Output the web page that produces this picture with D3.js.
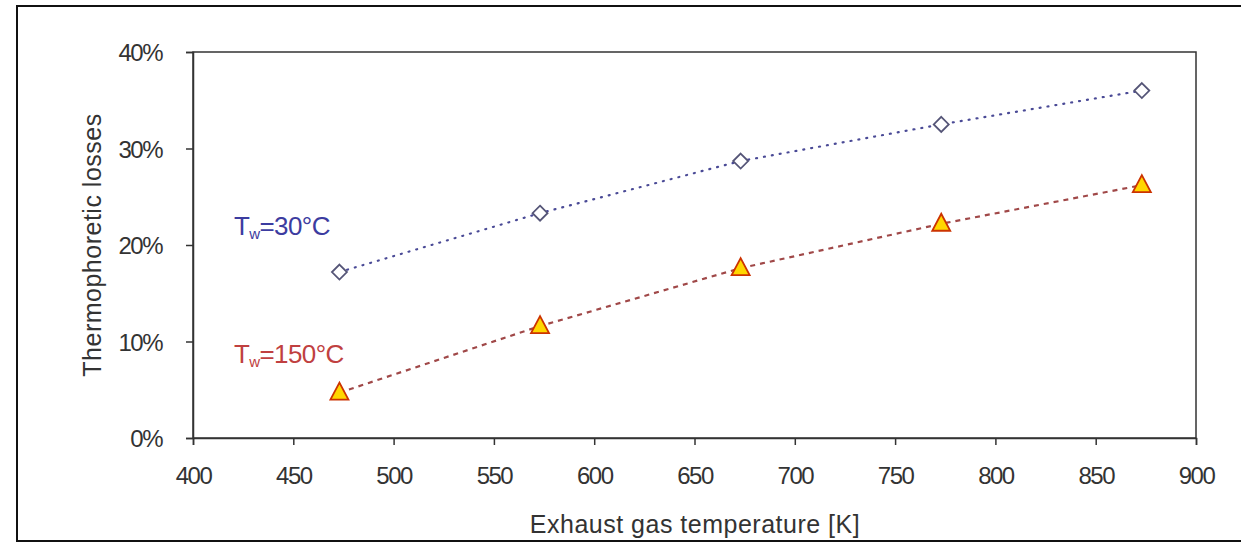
<!DOCTYPE html>
<html>
<head>
<meta charset="utf-8">
<script src="https://cdn.jsdelivr.net/npm/d3@7"></script>
<style>
  body { margin: 0; background: #fff; }
  text { font-family: "Liberation Sans", Arial, sans-serif; }
</style>
</head>
<body>
<div id="chart"></div>
<script>
// Data
var temps = [473, 573, 673, 773, 873];
var lossTw30 = [0.172, 0.233, 0.287, 0.325, 0.360];
var lossTw150 = [0.047, 0.116, 0.176, 0.222, 0.262];
var xTicks = [400, 450, 500, 550, 600, 650, 700, 750, 800, 850, 900];
var yTicks = [0, 0.1, 0.2, 0.3, 0.4];

function init() {
    var w = 1241;
    var h = 545;
    var left = 193, right = 1196, top = 52, bottom = 438;

    var svg = d3.select("#chart")
        .append("svg")
        .attr("width", w)
        .attr("height", h);

    // outer frame (top, left, bottom)
    svg.append("path")
        .attr("d", "M1241,6 H17 V541 H1241")
        .attr("fill", "none")
        .attr("stroke", "#111")
        .attr("stroke-width", 2);

    var xScale = d3.scaleLinear().domain([400, 900]).range([left, right]);
    var yScale = d3.scaleLinear().domain([0, 0.4]).range([bottom, top]);

    // plot box
    svg.append("rect")
        .attr("x", left)
        .attr("y", top)
        .attr("width", right - left)
        .attr("height", bottom - top)
        .attr("fill", "none")
        .attr("stroke", "#333")
        .attr("stroke-width", 1.5);

    var xAxis = d3.axisBottom(xScale).tickValues(xTicks).tickSize(7).tickPadding(27)
        .tickFormat(d3.format("d"));
    var yAxis = d3.axisLeft(yScale).tickValues(yTicks).tickSize(7).tickPadding(24)
        .tickFormat(d3.format(".0%"));

    var gx = svg.append("g")
        .attr("transform", "translate(0," + bottom + ")")
        .call(xAxis);
    var gy = svg.append("g")
        .attr("transform", "translate(" + left + ",0)")
        .call(yAxis);

    [gx, gy].forEach(function(g) {
        g.select(".domain").attr("stroke", "#333").attr("stroke-width", 1.5);
        g.selectAll(".tick line").attr("stroke", "#333").attr("stroke-width", 1.5);
        g.selectAll(".tick text")
            .attr("fill", "#333")
            .style("font-size", "24px")
            .style("letter-spacing", "-1.5px");
    });
    gx.selectAll(".tick text").attr("dy", "0.5em");
    gy.selectAll(".tick text").attr("dy", "0.36em");

    // axis titles
    svg.append("text")
        .attr("x", 695)
        .attr("y", 533)
        .attr("text-anchor", "middle")
        .attr("fill", "#333")
        .style("font-size", "25px")
        .style("letter-spacing", "0.5px")
        .text("Exhaust gas temperature [K]");

    svg.append("text")
        .attr("transform", "translate(101," + (top + bottom) / 2 + ") rotate(-90)")
        .attr("text-anchor", "middle")
        .attr("fill", "#333")
        .style("font-size", "25px")
        .style("letter-spacing", "0.5px")
        .text("Thermophoretic losses");

    var line = d3.line()
        .x(function(d) { return xScale(d[0]); })
        .y(function(d) { return yScale(d[1]); });

    var pts30 = temps.map(function(t, i) { return [t, lossTw30[i]]; });
    var pts150 = temps.map(function(t, i) { return [t, lossTw150[i]]; });

    // Tw = 30 C series: dotted blue line, open diamonds
    svg.append("path")
        .datum(pts30)
        .attr("d", line)
        .attr("fill", "none")
        .attr("stroke", "#4a4a96")
        .attr("stroke-width", 2.2)
        .attr("stroke-linecap", "round")
        .attr("stroke-dasharray", "1,7");

    svg.selectAll(".diamond")
        .data(pts30)
        .enter()
        .append("path")
        .attr("class", "diamond")
        .attr("transform", function(d) { return "translate(" + xScale(d[0]) + "," + yScale(d[1]) + ")"; })
        .attr("d", "M0,-7.5 L7.5,0 L0,7.5 L-7.5,0 Z")
        .attr("fill", "#fff")
        .attr("stroke", "#555577")
        .attr("stroke-width", 1.8);

    // Tw = 150 C series: dashed red line, yellow triangles
    svg.append("path")
        .datum(pts150)
        .attr("d", line)
        .attr("fill", "none")
        .attr("stroke", "#a04848")
        .attr("stroke-width", 2.2)
        .attr("stroke-dasharray", "5,5");

    svg.selectAll(".triangle")
        .data(pts150)
        .enter()
        .append("path")
        .attr("class", "triangle")
        .attr("transform", function(d) { return "translate(" + xScale(d[0]) + "," + yScale(d[1]) + ")"; })
        .attr("d", "M0,-10 L9,7 L-9,7 Z")
        .attr("fill", "#ffd700")
        .attr("stroke", "#cc3300")
        .attr("stroke-width", 1.8);

    // series labels
    var lab30 = svg.append("text")
        .attr("x", 234)
        .attr("y", 235)
        .attr("fill", "#3c3ca0")
        .style("font-size", "26px")
        .style("letter-spacing", "-0.6px");
    lab30.append("tspan").text("T");
    lab30.append("tspan").attr("dy", 4).style("font-size", "15px").text("w");
    lab30.append("tspan").attr("dy", -4).text("=30°C");

    var lab150 = svg.append("text")
        .attr("x", 234)
        .attr("y", 363)
        .attr("fill", "#c04040")
        .style("font-size", "26px")
        .style("letter-spacing", "-0.6px");
    lab150.append("tspan").text("T");
    lab150.append("tspan").attr("dy", 4).style("font-size", "15px").text("w");
    lab150.append("tspan").attr("dy", -4).text("=150°C");
}

window.onload = init;
</script>
</body>
</html>
